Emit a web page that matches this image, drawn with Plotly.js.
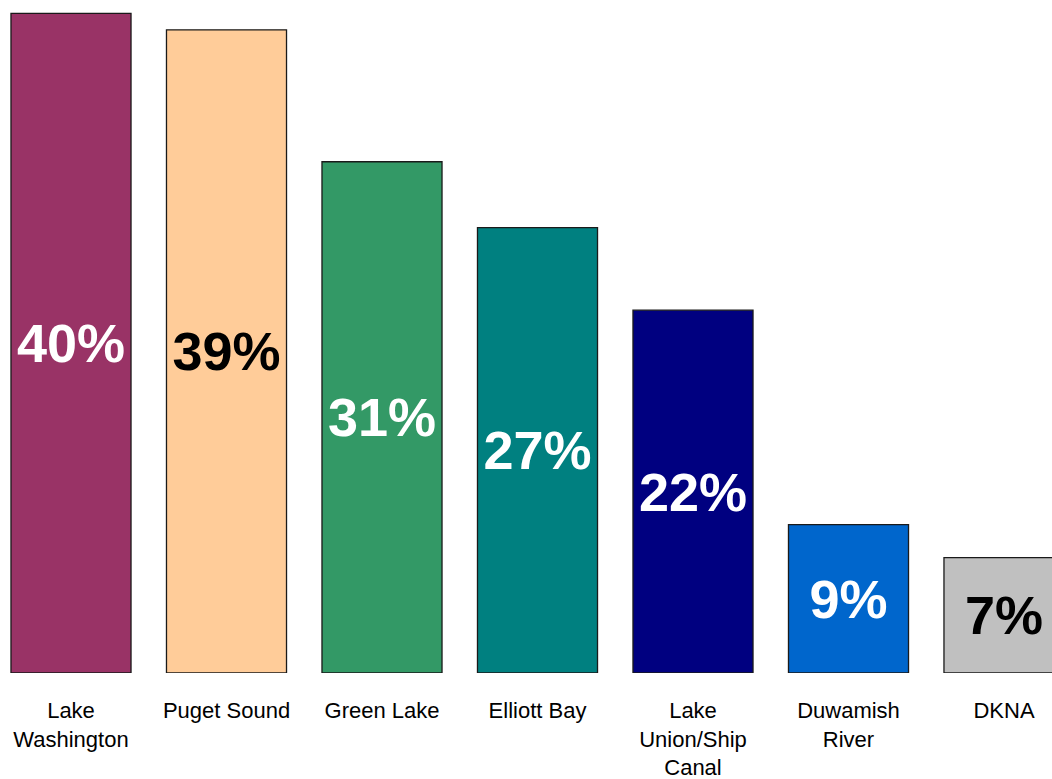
<!DOCTYPE html>
<html>
<head>
<meta charset="utf-8">
<script src="https://cdn.plot.ly/plotly-3.0.1.min.js"></script>
<style>html,body{margin:0;padding:0;background:#fff;}#chart{width:1052px;height:779px;}</style>
</head>
<body>
<div id="chart"></div>
<script>
const categories = ["Lake<br>Washington", "Puget Sound", "Green Lake", "Elliott Bay", "Lake<br>Union/Ship<br>Canal", "Duwamish<br>River", "DKNA"];
const values = [40, 39, 31, 27, 22, 9, 7];
const barColors = ["#993366", "#FFCC99", "#339966", "#008080", "#000080", "#0066CC", "#C0C0C0"];
const textColors = ["#FFFFFF", "#000000", "#FFFFFF", "#FFFFFF", "#FFFFFF", "#FFFFFF", "#000000"];

const trace = {
  type: "bar",
  x: categories,
  y: values,
  text: values.map(v => v + "%"),
  textposition: "inside",
  insidetextanchor: "middle",
  constraintext: "none",
  textangle: 0,
  textfont: {family: "Liberation Sans, Arial, sans-serif", size: 54, color: textColors, weight: "bold"},
  marker: {color: barColors, line: {color: "#1a1a1a", width: 1.3}},
  width: 0.772,
  hoverinfo: "skip"
};

const layout = {
  width: 1052, height: 779,
  margin: {l: 0, r: 0, t: 10, b: 106, pad: 0},
  paper_bgcolor: "#fff", plot_bgcolor: "#fff",
  showlegend: false,
  font: {family: "Liberation Sans, Arial, sans-serif", color: "#000"},
  xaxis: {
    type: "category",
    range: [-0.4566, 6.3087],
    showgrid: false, zeroline: false, showline: false,
    ticks: "", ticklabelstandoff: 22,
    tickfont: {family: "Liberation Sans, Arial, sans-serif", size: 22, color: "#000"},
    fixedrange: true
  },
  yaxis: {
    range: [0, 40.2],
    visible: false,
    showgrid: false, zeroline: false,
    fixedrange: true
  }
};

Plotly.newPlot("chart", [trace], layout, {displayModeBar: false, staticPlot: true});
</script>
</body>
</html>
